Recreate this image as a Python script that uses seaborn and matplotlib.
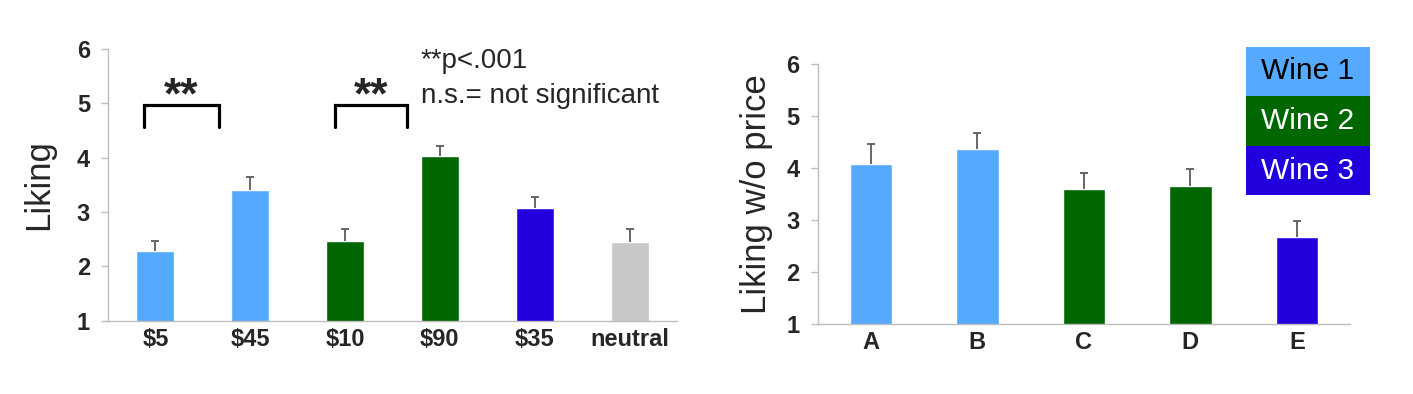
import numpy as np
import matplotlib
matplotlib.use("Agg")
import matplotlib.pyplot as plt
import seaborn as sns
from matplotlib.patches import Rectangle
from matplotlib.ticker import FixedLocator

# ---- data ----
left_labels = ["$5", "$45", "$10", "$90", "$35", "neutral"]
left_means = [2.29, 3.41, 2.47, 4.03, 3.07, 2.44]
left_err = [0.18, 0.23, 0.22, 0.19, 0.20, 0.25]

right_labels = ["A", "B", "C", "D", "E"]
right_means = [4.09, 4.36, 3.59, 3.66, 2.67]
right_err = [0.37, 0.31, 0.31, 0.33, 0.32]

wine_names = ["Wine 1", "Wine 2", "Wine 3"]

# ---- style ----
sns.set_style("white")
plt.rcParams["font.family"] = ["Liberation Sans", "DejaVu Sans"]

c_blue1 = "#55AAFF"
c_green = "#006600"
c_blue3 = "#2200DD"
c_gray = "#C8C8C8"
left_colors = [c_blue1, c_blue1, c_green, c_green, c_blue3, c_gray]
right_colors = [c_blue1, c_blue1, c_green, c_green, c_blue3]
wine_colors = [c_blue1, c_green, c_blue3]
wine_text = ["black", "white", "white"]

fig = plt.figure(figsize=(14.13, 3.94), dpi=100)
ax1 = fig.add_axes([0.0764, 0.186, 0.4027, 0.690])
ax2 = fig.add_axes([0.5786, 0.1777, 0.3769, 0.6591])


def draw_panel(ax, labels, means, errs, colors, ylabel, label_x):
    sns.barplot(x=labels, y=means, hue=labels, palette=colors, legend=False,
                width=0.4, saturation=1, ax=ax)
    n = len(labels)
    eb = ax.errorbar(np.arange(n), means, yerr=[np.zeros(n), errs], fmt="none",
                     ecolor="#5a5a5a", elinewidth=1.3, capsize=3, capthick=1.3)
    eb[1][0].set_visible(False)  # only the upper cap
    ax.set_ylim(1, 6)
    ax.set_xlim(-0.5, n - 0.5)
    ax.set_yticks([1, 2, 3, 4, 5, 6])
    ax.xaxis.set_minor_locator(FixedLocator(np.arange(-0.5, n, 1.0)))
    ax.tick_params(axis="x", which="major", length=0, pad=5, labelsize=17)
    ax.tick_params(axis="x", which="minor", length=4, color="#bdbdbd", width=1)
    ax.tick_params(axis="y", length=5, color="#bdbdbd", width=1, pad=8,
                   labelsize=17, left=True)
    for lab in ax.get_xticklabels() + ax.get_yticklabels():
        lab.set_fontweight("bold")
    for s in ["top", "right"]:
        ax.spines[s].set_visible(False)
    for s in ["left", "bottom"]:
        ax.spines[s].set_color("#bdbdbd")
        ax.spines[s].set_linewidth(1)
    ax.set_xlabel("")
    ax.set_ylabel(ylabel, fontsize=25)
    ax.yaxis.set_label_coords(label_x, 0.5)


draw_panel(ax1, left_labels, left_means, left_err, left_colors, "Liking", -0.092)
draw_panel(ax2, right_labels, right_means, right_err, right_colors,
           "Liking w/o price", -0.084)

# significance brackets
for x0, x1 in [(-0.12, 0.67), (1.89, 2.65)]:
    ax1.plot([x0, x0, x1, x1], [4.57, 4.97, 4.97, 4.57], color="black",
             lw=2.3, solid_joinstyle="miter", clip_on=False)
    ax1.text((x0 + x1) / 2, 5.12, "**", ha="center", va="center",
             fontsize=32, fontweight="bold")

ax1.text(2.80, 5.78, "**p<.001", ha="left", va="center", fontsize=20)
ax1.text(2.80, 5.13, "n.s.= not significant", ha="left", va="center", fontsize=20)

# colour key for the wines
band_h = 0.191
for i, (name, col, tcol) in enumerate(zip(wine_names, wine_colors, wine_text)):
    y0 = 1.0678 - (i + 1) * band_h
    ax2.add_patch(Rectangle((0.8047, y0), 0.2323, band_h, transform=ax2.transAxes,
                            facecolor=col, edgecolor="none", clip_on=False))
    ax2.text(0.8047 + 0.2323 / 2, y0 + band_h / 2, name, transform=ax2.transAxes,
             ha="center", va="center", fontsize=21.5, color=tcol)

fig.savefig("out.png", dpi=100)
